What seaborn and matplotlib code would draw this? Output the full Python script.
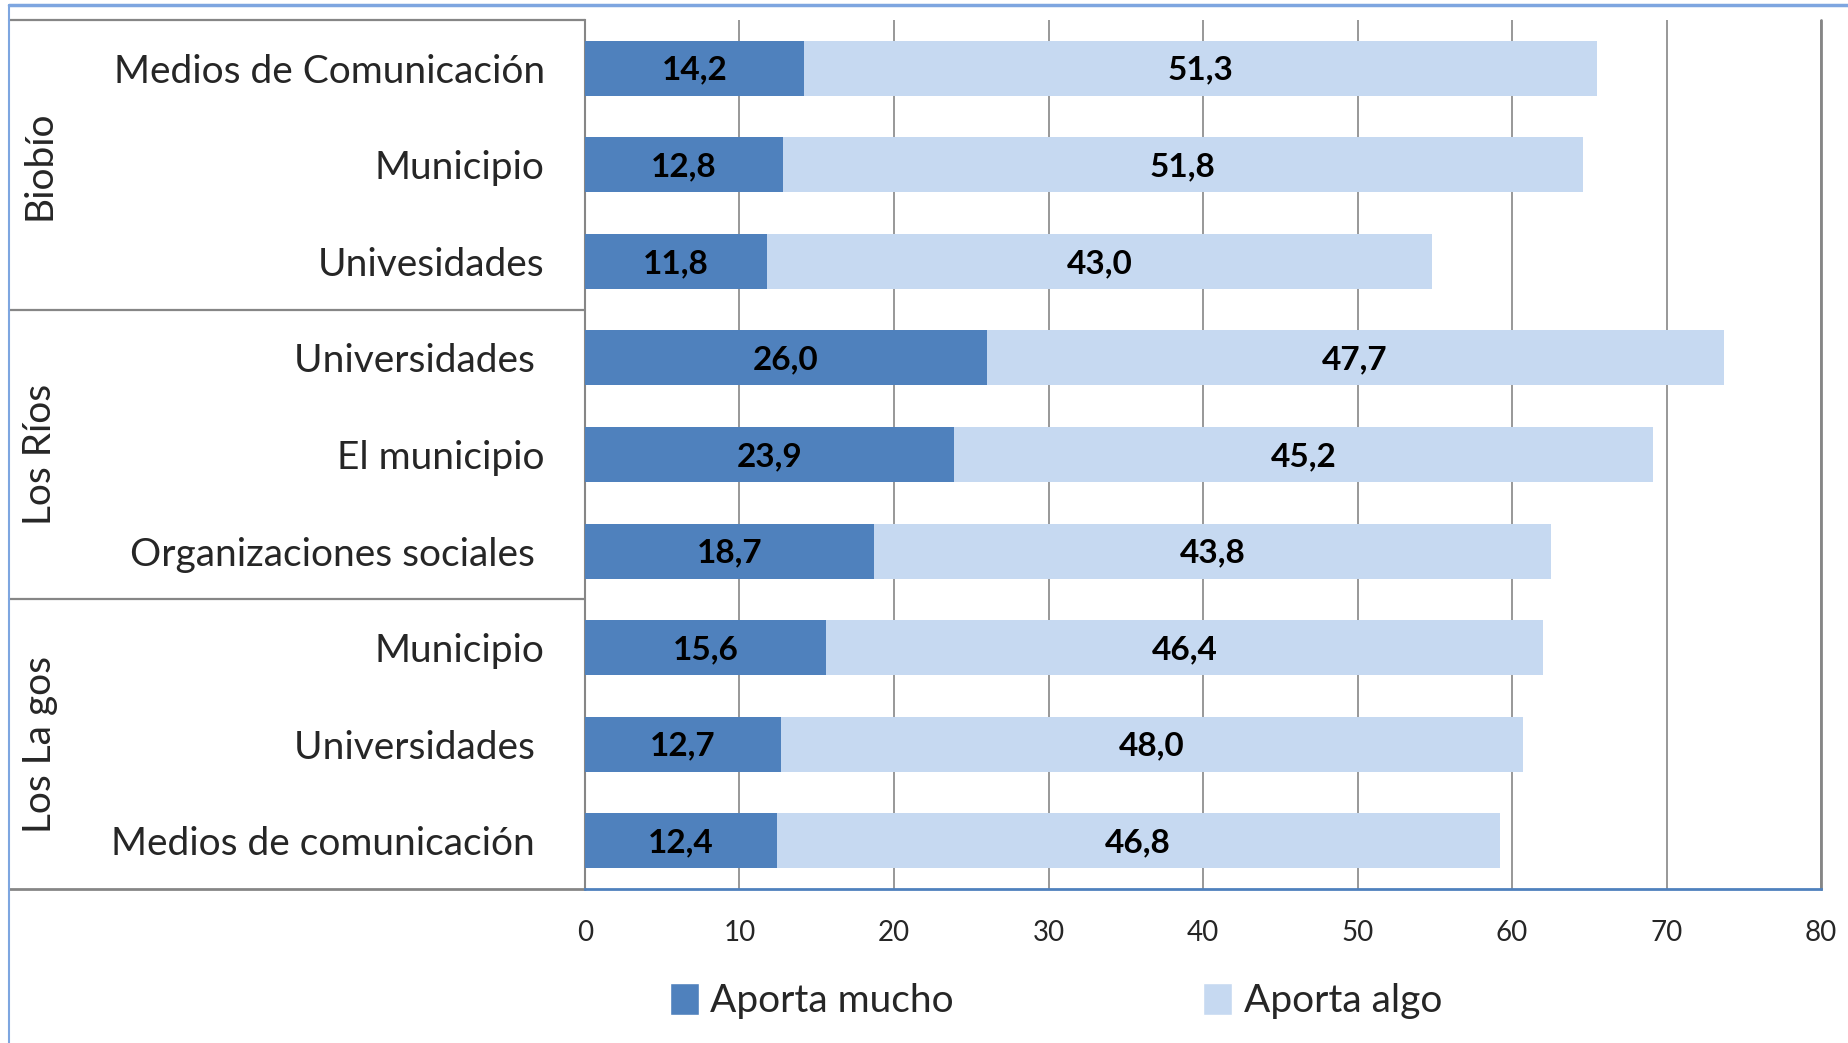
import matplotlib
matplotlib.use("Agg")
import matplotlib.pyplot as plt
import matplotlib.transforms as mtransforms
from matplotlib.patches import Patch
import seaborn as sns
import pandas as pd

# ---- data ----
groups = ["Biobío", "Los Ríos", "Los La gos"]
categories = [
    ["Medios de Comunicación", "Municipio", "Univesidades"],
    ["Universidades ", "El municipio", "Organizaciones sociales "],
    ["Municipio", "Universidades ", "Medios de comunicación "],
]
aporta_mucho = [14.2, 12.8, 11.8, 26.0, 23.9, 18.7, 15.6, 12.7, 12.4]
aporta_algo = [51.3, 51.8, 43.0, 47.7, 45.2, 43.8, 46.4, 48.0, 46.8]
series_names = ["Aporta mucho", "Aporta algo"]
x_ticks = [0, 10, 20, 30, 40, 50, 60, 70, 80]

DARK = "#4F81BD"
LIGHT = "#C6D9F1"
GRID = "#868686"
FONT = ["Lato", "DejaVu Sans"]

sns.set_theme(style="white")
plt.rcParams["font.family"] = FONT

labels = [c for grp in categories for c in grp]
keys = [f"{g}|{c}" for g, grp in zip(groups, categories) for c in grp]
df = pd.DataFrame({"key": keys, "label": labels,
                   "mucho": aporta_mucho, "algo": aporta_algo})
df["total"] = df["mucho"] + df["algo"]

W, H = 1849, 1043
fig = plt.figure(figsize=(W / 100, H / 100), dpi=100)
ax_left, ax_right, ax_top, ax_bot = 585, 1821, 20, 889
ax = fig.add_axes([ax_left / W, 1 - ax_bot / H, (ax_right - ax_left) / W, (ax_bot - ax_top) / H])

sns.barplot(data=df, y="key", x="total", order=keys, color=LIGHT, width=0.57,
            orient="h", ax=ax, saturation=1, errorbar=None, zorder=3)
sns.barplot(data=df, y="key", x="mucho", order=keys, color=DARK, width=0.57,
            orient="h", ax=ax, saturation=1, errorbar=None, zorder=4)
for p in ax.patches:
    p.set_linewidth(0)

ax.set_xlim(0, 80)
ax.set_xticks(x_ticks)
ax.set_xticklabels([str(t) for t in x_ticks], fontsize=20)
ax.set_ylim(len(keys) - 0.5, -0.5)
ax.set_yticks(range(len(keys)))
ax.set_yticklabels(labels, fontsize=28)
ax.tick_params(axis="y", length=0, pad=29)
ax.tick_params(axis="x", length=0, pad=22)
ax.set_xlabel("")
ax.set_ylabel("")
ax.xaxis.grid(True, color=GRID, linewidth=1.2, zorder=0)
ax.set_axisbelow(True)
for s in ["top", "right"]:
    ax.spines[s].set_visible(False)
ax.spines["left"].set_color(GRID)
ax.spines["left"].set_linewidth(1.5)
ax.spines["bottom"].set_color(DARK)
ax.spines["bottom"].set_linewidth(2)
ax.axvline(80, color=GRID, linewidth=2, zorder=1, clip_on=False)

# value labels
for i, (m, a) in enumerate(zip(df["mucho"], df["algo"])):
    ax.text(m / 2, i + 0.02, f"{m:.1f}".replace(".", ","), ha="center", va="center",
            fontsize=24, fontweight="bold", color="black", zorder=5)
    ax.text(m + a / 2, i + 0.02, f"{a:.1f}".replace(".", ","), ha="center", va="center",
            fontsize=24, fontweight="bold", color="black", zorder=5)

# left panel with group labels
trans = mtransforms.blended_transform_factory(ax.transAxes, ax.transData)
xl = (9 - ax_left) / (ax_right - ax_left)
n_per = [len(g) for g in categories]
start = -0.5
for gi, (g, n) in enumerate(zip(groups, n_per)):
    end = start + n
    ax.text((40 - ax_left) / (ax_right - ax_left), (start + end) / 2, g, rotation=90,
            ha="center", va="center", fontsize=28, transform=trans)
    ax.plot([xl, 0], [start, start], color=GRID, linewidth=1.6, transform=trans, clip_on=False)
    start = end
ax.plot([xl, 0], [start, start], color=GRID, linewidth=2, transform=trans, clip_on=False)

# chart border (light blue)
fig.add_artist(plt.Line2D([9 / W, 1], [1 - 5 / H, 1 - 5 / H], color="#7EA6E0", linewidth=2.5,
                          transform=fig.transFigure))
fig.add_artist(plt.Line2D([9 / W, 9 / W], [0, 1 - 5 / H], color="#7EA6E0", linewidth=1.5,
                          transform=fig.transFigure))

handles = [Patch(facecolor=DARK, label=series_names[0]),
           Patch(facecolor=LIGHT, label=series_names[1])]
fig.legend(handles=handles, loc="center", bbox_to_anchor=(0.571, 1 - 1001 / H), ncol=2,
           frameon=False, fontsize=28, handlelength=0.75, handleheight=0.9,
           handletextpad=0.3, columnspacing=6.4)

fig.savefig("out.png", dpi=100)
